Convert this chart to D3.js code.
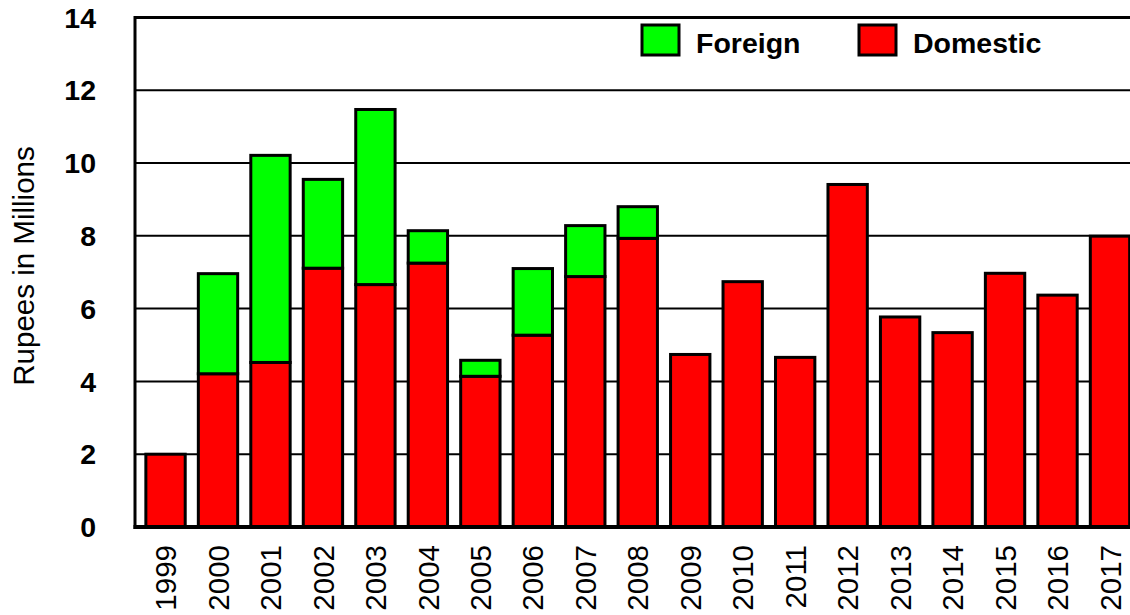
<!DOCTYPE html>
<html>
<head>
<meta charset="utf-8">
<script src="https://cdn.jsdelivr.net/npm/d3@7"></script>
<style>
  body { margin: 0; background: #ffffff; }
  svg { display: block; font-family: "Liberation Sans", Arial, sans-serif; }
</style>
</head>
<body>
<div id="plot"></div>
<script>
var width = 1130;
var height = 615;

// data
var years = ['1999', '2000', '2001', '2002', '2003', '2004', '2005', '2006', '2007', '2008',
             '2009', '2010', '2011', '2012', '2013', '2014', '2015', '2016', '2017'];
var domestic = [2.0, 4.21, 4.52, 7.11, 6.66, 7.25, 4.14, 5.27, 6.88, 7.93,
                4.74, 6.74, 4.66, 9.41, 5.77, 5.34, 6.97, 6.37, 7.99];
var foreign = [0, 2.75, 5.69, 2.44, 4.81, 0.89, 0.44, 1.83, 1.40, 0.87,
               0, 0, 0, 0, 0, 0, 0, 0, 0];
var y_ticks = [0, 2, 4, 6, 8, 10, 12, 14];
var series_names = ['Foreign', 'Domestic'];
var series_colors = ['#00ff00', '#ff0000'];

var canvas = d3.select('#plot')
    .append('svg')
    .attr('width', width)
    .attr('height', height);

var step = 52.47;
var x_start = 139.3;
var x_scale = d3.scaleBand()
    .domain(years)
    .range([x_start, x_start + years.length * step])
    .paddingInner(0.25)
    .paddingOuter(0.125);

var y_scale = d3.scaleLinear()
    .domain([0, 14])
    .range([527, 17.4]);

var plot_left = 135;

// gridlines
canvas.selectAll('line.grid')
    .data(y_ticks.filter(function(d) { return d > 0 && d < 14; }))
    .enter()
    .append('line')
    .attr('class', 'grid')
    .attr('x1', plot_left)
    .attr('x2', width)
    .attr('y1', function(d) { return y_scale(d); })
    .attr('y2', function(d) { return y_scale(d); })
    .attr('stroke', '#000000')
    .attr('stroke-width', 2);

// top border
canvas.append('line')
    .attr('x1', plot_left)
    .attr('x2', width)
    .attr('y1', y_scale(14))
    .attr('y2', y_scale(14))
    .attr('stroke', '#000000')
    .attr('stroke-width', 3);

// stacked bars
var rows = years.map(function(y, i) {
    return { year: y, Domestic: domestic[i], Foreign: foreign[i] };
});
var stack = d3.stack().keys(['Domestic', 'Foreign']);
var layers = stack(rows);
var color_of = { Foreign: series_colors[0], Domestic: series_colors[1] };

var layer = canvas.selectAll('g.layer')
    .data(layers)
    .enter()
    .append('g')
    .attr('class', 'layer')
    .attr('fill', function(d) { return color_of[d.key]; });

layer.selectAll('rect')
    .data(function(d) { return d.filter(function(p) { return p[1] - p[0] > 0; }); })
    .enter()
    .append('rect')
    .attr('x', function(d) { return x_scale(d.data.year); })
    .attr('y', function(d) { return y_scale(d[1]); })
    .attr('width', x_scale.bandwidth())
    .attr('height', function(d) { return y_scale(d[0]) - y_scale(d[1]); })
    .attr('stroke', '#000000')
    .attr('stroke-width', 3);

// left axis line
canvas.append('line')
    .attr('x1', plot_left)
    .attr('x2', plot_left)
    .attr('y1', y_scale(14) - 1.5)
    .attr('y2', y_scale(0) + 2)
    .attr('stroke', '#000000')
    .attr('stroke-width', 3);

// bottom axis line
canvas.append('line')
    .attr('x1', plot_left - 1.5)
    .attr('x2', width)
    .attr('y1', y_scale(0))
    .attr('y2', y_scale(0))
    .attr('stroke', '#000000')
    .attr('stroke-width', 4);

// y tick labels
canvas.selectAll('text.ytick')
    .data(y_ticks)
    .enter()
    .append('text')
    .attr('class', 'ytick')
    .attr('x', 96)
    .attr('y', function(d) { return y_scale(d); })
    .attr('dy', '0.36em')
    .attr('text-anchor', 'end')
    .attr('font-size', 28.5)
    .attr('font-weight', 'bold')
    .attr('fill', '#000000')
    .text(function(d) { return d; });

// x labels
canvas.selectAll('text.xtick')
    .data(years)
    .enter()
    .append('text')
    .attr('class', 'xtick')
    .attr('transform', function(d) {
        return 'translate(' + (x_scale(d) + x_scale.bandwidth() / 2) + ',545) rotate(-90)';
    })
    .attr('dy', '0.36em')
    .attr('text-anchor', 'end')
    .attr('font-size', 29.5)
    .attr('fill', '#000000')
    .text(function(d) { return d; });

// y axis title
canvas.append('text')
    .attr('transform', 'translate(23,266) rotate(-90)')
    .attr('dy', '0.36em')
    .attr('text-anchor', 'middle')
    .attr('font-size', 29.5)
    .attr('fill', '#000000')
    .text('Rupees in Millions');

// legend
var legend_x = [642, 859];
var legend = canvas.selectAll('g.legend')
    .data(series_names)
    .enter()
    .append('g')
    .attr('class', 'legend')
    .attr('transform', function(d, i) { return 'translate(' + legend_x[i] + ',25)'; });

legend.append('rect')
    .attr('width', 37)
    .attr('height', 30)
    .attr('fill', function(d, i) { return series_colors[i]; })
    .attr('stroke', '#000000')
    .attr('stroke-width', 3);

legend.append('text')
    .attr('x', 54)
    .attr('y', 28)
    .attr('font-size', 28.5)
    .attr('font-weight', 'bold')
    .attr('fill', '#000000')
    .text(function(d) { return d; });
</script>
</body>
</html>
